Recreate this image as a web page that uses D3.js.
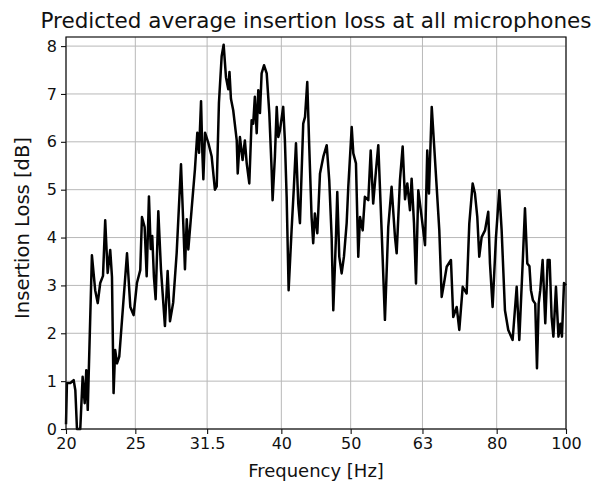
<!DOCTYPE html>
<html>
<head>
<meta charset="utf-8">
<script src="https://cdn.jsdelivr.net/npm/d3@7"></script>
<style>
  body { margin: 0; background: #fff; }
  text { font-family: "DejaVu Sans", sans-serif; fill: #111; }
  .grid line { stroke: #b8b8b8; stroke-width: 1; }
</style>
</head>
<body>
<svg id="chart" width="603" height="484"></svg>
<script>
// frequency [Hz] and predicted insertion loss [dB]
const freqHz = [
  20.00, 20.06, 20.28, 20.50, 20.61, 20.72, 20.94, 21.10, 21.24, 21.35,
  21.45, 21.74, 21.97, 22.15, 22.33, 22.53, 22.69, 22.87, 23.06, 23.19,
  23.31, 23.43, 23.57, 23.74, 24.34, 24.60, 24.86, 25.13, 25.40, 25.54,
  25.76, 25.93, 26.12, 26.27, 26.40, 26.54, 26.69, 26.92, 27.15, 27.50,
  27.74, 27.95, 28.24, 28.56, 28.96, 29.17, 29.33, 29.50, 29.65, 29.97,
  30.29, 30.52, 30.69, 30.89, 31.02, 31.12, 31.29, 31.62, 31.96, 32.30,
  32.49, 32.72, 33.01, 33.22, 33.47, 33.72, 33.85, 34.01, 34.26, 34.65,
  34.76, 35.01, 35.31, 35.57, 35.78, 36.08, 36.35, 36.54, 36.73, 36.95,
  37.14, 37.34, 37.54, 37.83, 38.16, 38.48, 38.77, 38.89, 39.18, 39.41,
  39.61, 39.82, 40.24, 40.46, 40.69, 40.95, 41.34, 41.65, 41.93, 42.24,
  42.47, 42.92, 43.17, 43.48, 43.76, 44.09, 44.32, 44.56, 44.91, 45.30,
  45.79, 46.29, 46.67, 47.03, 47.28, 47.69, 47.89, 48.20, 48.57, 48.93,
  49.36, 49.62, 50.17, 50.43, 50.86, 51.24, 51.53, 51.97, 52.34, 52.92,
  53.33, 53.76, 54.25, 54.65, 55.24, 55.83, 56.43, 57.04, 57.67, 57.98,
  58.60, 59.11, 59.56, 60.00, 60.52, 60.84, 61.31, 61.70, 62.16, 62.83,
  63.52, 63.98, 64.33, 64.91, 65.39, 65.95, 66.51, 67.02, 67.52, 68.11,
  69.05, 69.56, 70.34, 70.93, 71.71, 72.63, 73.25, 74.05, 74.60, 75.16,
  75.64, 76.22, 77.05, 77.86, 78.29, 78.96, 79.82, 80.67, 81.29, 82.16,
  83.04, 84.21, 85.32, 86.04, 86.98, 87.63, 88.28, 88.90, 89.33, 89.90,
  90.57, 91.08, 91.58, 92.05, 92.75, 93.55, 94.27, 94.87, 95.47, 96.02,
  96.82, 97.60, 98.23, 98.70, 99.36, 100.0
];
const lossDb = [
  0.1, 0.96, 0.96, 1.02, 0.81, 0.0, 0.0, 1.09, 0.54, 1.23,
  0.4, 3.63, 2.9, 2.63, 3.05, 3.2, 4.36, 3.26, 3.74, 3.18,
  0.75, 1.65, 1.37, 1.51, 3.67, 2.55, 2.38, 3.05, 3.32, 4.43,
  4.22, 3.19, 4.86, 3.76, 4.03, 3.19, 2.71, 4.55, 3.34, 2.15,
  3.3, 2.25, 2.64, 3.68, 5.53, 4.31, 3.34, 4.38, 3.75, 4.6,
  5.43, 6.19, 5.77, 6.85, 5.77, 5.22, 6.19, 5.98, 5.7, 5.0,
  5.07, 6.81, 7.79, 8.03, 7.35, 7.1, 7.46, 6.9, 6.66, 6.03,
  5.34, 6.1, 5.62, 6.03, 5.55, 5.13, 6.45, 6.38, 6.94, 6.18,
  7.08, 6.6, 7.43, 7.6, 7.43, 6.6, 5.41, 4.78, 5.69, 6.73,
  6.1, 6.24, 6.73, 6.03, 4.85, 2.9, 4.15, 5.06, 5.97, 4.71,
  4.3, 6.38, 6.52, 7.25, 5.9, 4.43, 3.88, 4.5, 4.09, 5.34,
  5.69, 5.93, 5.2, 4.01, 2.48, 4.01, 4.95, 3.6, 3.25, 3.6,
  4.3, 5.06, 6.31, 5.76, 5.55, 3.6, 4.43, 4.15, 4.85, 4.78,
  5.82, 4.71, 5.41, 5.93, 4.15, 2.28, 4.22, 5.06, 4.01, 3.67,
  5.2, 5.9, 4.8, 5.13, 4.57, 5.23, 4.29, 3.04, 4.99, 4.43,
  3.84, 5.82, 4.92, 6.73, 5.96, 5.06, 4.15, 2.76, 3.04, 3.39,
  3.53, 2.34, 2.55, 2.07, 2.97, 2.83, 4.29, 5.13, 4.92, 4.43,
  3.6, 4.01, 4.15, 4.54, 3.46, 2.55, 4.01, 4.99, 4.15, 2.48,
  2.07, 1.86, 2.97, 1.86, 3.46, 4.61, 3.46, 3.4, 2.9, 2.69,
  2.62, 1.27, 2.62, 2.9, 3.53, 2.21, 3.53, 3.53, 2.34, 1.93,
  2.97, 1.93, 2.2, 1.93, 3.05, 3.0
];
const xTicks = [20, 25, 31.5, 40, 50, 63, 80, 100];
const xTickLabels = ["20", "25", "31.5", "40", "50", "63", "80", "100"];
const yTicks = [0, 1, 2, 3, 4, 5, 6, 7, 8];

const svg = d3.select("#chart");
const width = +svg.attr("width");
const height = +svg.attr("height");
const margin = { top: 37, right: 37, bottom: 55, left: 66 };
const plotW = width - margin.left - margin.right;
const plotH = height - margin.top - margin.bottom;

const g = svg.append("g")
  .attr("transform", "translate(" + margin.left + "," + margin.top + ")");

const x = d3.scaleLog().domain([20, 100]).range([0, plotW]);
const y = d3.scaleLinear().domain([0, 8.19]).range([plotH, 0]);

// grid
g.append("g").attr("class", "grid")
  .selectAll("line").data(xTicks).join("line")
  .attr("x1", d => x(d)).attr("x2", d => x(d))
  .attr("y1", 0).attr("y2", plotH);
g.append("g").attr("class", "grid")
  .selectAll("line").data(yTicks).join("line")
  .attr("x1", 0).attr("x2", plotW)
  .attr("y1", d => y(d)).attr("y2", d => y(d));

// the curve
const pts = freqHz.map((f, i) => [f, lossDb[i]]);
const line = d3.line().x(d => x(d[0])).y(d => y(d[1]));
g.append("path").datum(pts)
  .attr("d", line)
  .attr("fill", "none")
  .attr("stroke", "#000")
  .attr("stroke-width", 2.5)
  .attr("stroke-linejoin", "round");

// axes
const xAxis = d3.axisBottom(x).tickValues(xTicks)
  .tickFormat((d, i) => xTickLabels[i]).tickSize(5).tickPadding(4);
const yAxis = d3.axisLeft(y).tickValues(yTicks)
  .tickFormat(d3.format("d")).tickSize(5).tickPadding(4);

const gx = g.append("g").attr("transform", "translate(0," + plotH + ")").call(xAxis);
const gy = g.append("g").call(yAxis);
[gx, gy].forEach(a => {
  a.select(".domain").remove();
  a.selectAll(".tick line").attr("stroke", "#111").attr("stroke-width", 1.1);
  a.selectAll("text").style("font-size", "16px").style("font-family", "DejaVu Sans").attr("fill", "#111");
});

// frame
g.append("rect")
  .attr("width", plotW).attr("height", plotH)
  .attr("fill", "none").attr("stroke", "#111").attr("stroke-width", 1.2);

// labels
svg.append("text")
  .attr("x", margin.left + plotW / 2).attr("y", 28)
  .attr("text-anchor", "middle").style("font-size", "21.5px")
  .text("Predicted average insertion loss at all microphones");

svg.append("text")
  .attr("x", margin.left + plotW / 2).attr("y", 477)
  .attr("text-anchor", "middle").style("font-size", "18px")
  .text("Frequency [Hz]");

svg.append("text")
  .attr("transform", "translate(29," + (margin.top + plotH / 2 - 5) + ") rotate(-90)")
  .attr("text-anchor", "middle").style("font-size", "19.5px")
  .text("Insertion Loss [dB]");
</script>
</body>
</html>
